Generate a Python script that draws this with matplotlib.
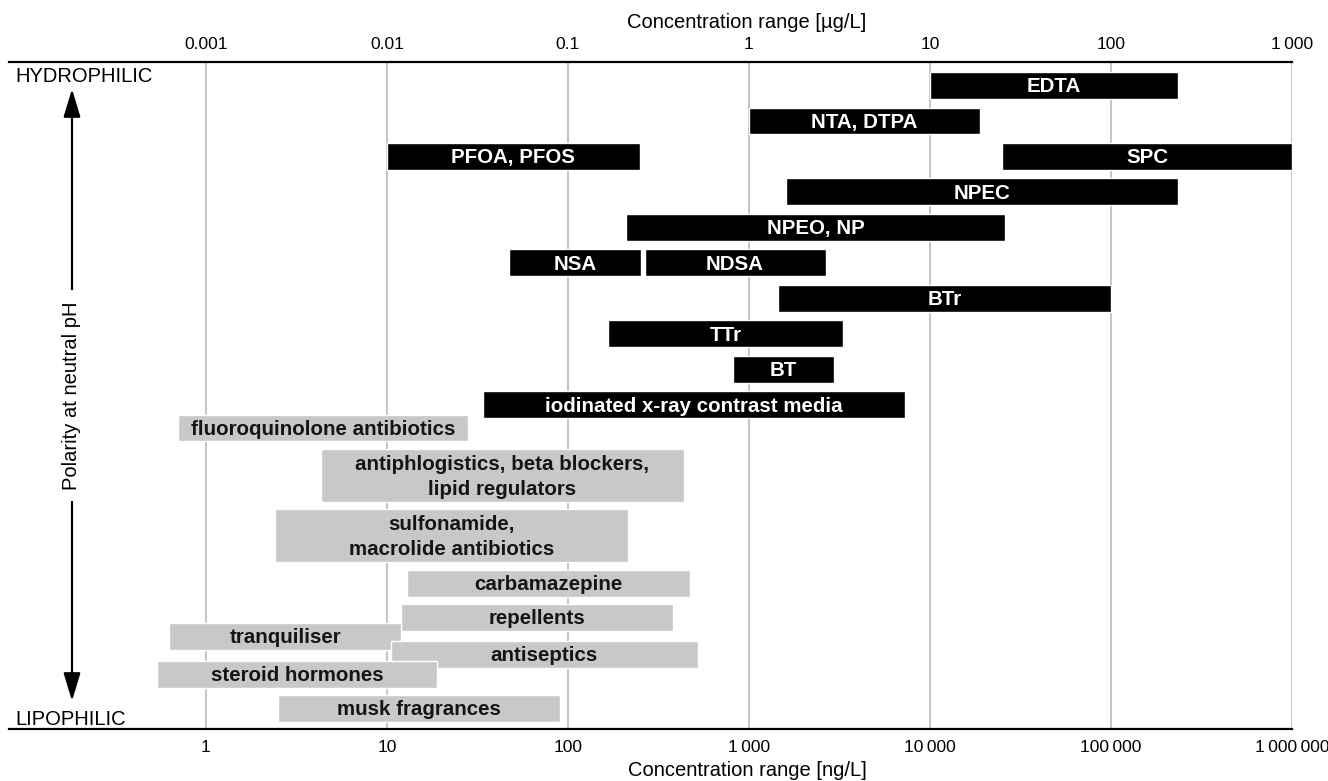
import matplotlib
matplotlib.use("Agg")
import matplotlib.pyplot as plt
import numpy as np

plt.rcParams["font.family"] = ["Liberation Sans", "DejaVu Sans"]

# hydrophilic (top) compounds, concentration range in ng/L
BLACK_NAMES = ["EDTA", "NTA, DTPA", "PFOA, PFOS", "SPC", "NPEC", "NPEO, NP",
               "NSA", "NDSA", "BTr", "TTr", "BT", "iodinated x-ray contrast media"]
BLACK_LO = [10000, 1000, 10, 25000, 1600, 210, 47, 265, 1450, 167, 820, 34]
BLACK_HI = [235000, 19000, 250, 1000000, 235000, 26000, 255, 2650, 100000, 3300, 2950, 7300]
BLACK_ROW = [0, 1, 2, 2, 3, 4, 5, 5, 6, 7, 8, 9]

# lipophilic (lower) compounds
GRAY_NAMES = ["fluoroquinolone antibiotics",
              "antiphlogistics, beta blockers,\nlipid regulators",
              "sulfonamide,\nmacrolide antibiotics",
              "carbamazepine", "repellents", "tranquiliser", "antiseptics",
              "steroid hormones", "musk fragrances"]
GRAY_LO = [0.70, 4.3, 2.4, 13, 12, 0.63, 10.5, 0.54, 2.5]
GRAY_HI = [28, 440, 215, 470, 380, 12, 520, 19, 90]
GRAY_ROW = [9.65, 10.99, 12.68, 14.03, 15.0, 15.52, 16.04, 16.59, 17.56]
GRAY_SPAN = [1, 2, 2, 1, 1, 1, 1, 1, 1]

NG_TICKS = [1, 10, 100, 1000, 10000, 100000, 1000000]
NG_LABELS = ["1", "10", "100", "1\u2009000", "10\u2009000", "100\u2009000", "1\u2009000\u2009000"]
UG_LABELS = ["0.001", "0.01", "0.1", "1", "10", "100", "1\u2009000"]

BAR_H = 0.76


def bar(ax, lo, hi, row, h, face, tcolor, name):
    ax.barh(row, hi - lo, left=lo, height=h, color=face,
            edgecolor="white", linewidth=1.0, zorder=3)
    ax.text(np.sqrt(lo * hi), row + 0.03, name, ha="center", va="center",
            fontsize=14.8, fontweight="bold", color=tcolor, zorder=4,
            linespacing=1.4)


fig = plt.figure(figsize=(13.28, 7.81), dpi=100)
ax = fig.add_axes([9 / 1328, 52 / 781, 1283 / 1328, 667 / 781])
ax.set_xscale("log")
ax.set_xlim(0.0818, 1e6)
ax.set_ylim(18.13, -0.662)

for lo, hi, r, n in zip(BLACK_LO, BLACK_HI, BLACK_ROW, BLACK_NAMES):
    bar(ax, lo, hi, r, BAR_H, "black", "white", n)
for lo, hi, r, s, n in zip(GRAY_LO, GRAY_HI, GRAY_ROW, GRAY_SPAN, GRAY_NAMES):
    bar(ax, lo, hi, r, BAR_H if s == 1 else 1.49, "#c8c8c8", "#151515", n)

ax.set_xticks(NG_TICKS)
ax.set_xticklabels(NG_LABELS)
ax.xaxis.set_minor_locator(matplotlib.ticker.NullLocator())
ax.set_yticks([])
ax.grid(axis="x", color="#b4b4b4", linewidth=1.1, zorder=0)
ax.set_axisbelow(True)
ax.tick_params(axis="x", length=0, pad=8, labelsize=12.5)
for s in ["left", "right"]:
    ax.spines[s].set_visible(False)
for s in ["top", "bottom"]:
    ax.spines[s].set_linewidth(1.6)

ax2 = ax.twiny()
ax2.set_xscale("log")
ax2.set_xlim(ax.get_xlim())
ax2.set_xticks(NG_TICKS)
ax2.set_xticklabels(UG_LABELS)
ax2.xaxis.set_minor_locator(matplotlib.ticker.NullLocator())
ax2.tick_params(axis="x", length=0, pad=7, labelsize=12.5)
for s in ["left", "right", "bottom", "top"]:
    ax2.spines[s].set_visible(False)

fig.text(747 / 1328, 1 - 23 / 781, "Concentration range [µg/L]",
         ha="center", va="center", fontsize=14.5)
fig.text(747 / 1328, 1 - 771 / 781, "Concentration range [ng/L]",
         ha="center", va="center", fontsize=14.5)

fig.text(15 / 1328, 1 - 82 / 781, "HYDROPHILIC", ha="left", va="baseline",
         fontsize=14.5)
fig.text(15 / 1328, 1 - 725 / 781, "LIPOPHILIC", ha="left", va="baseline",
         fontsize=14.5)

# polarity arrow with the label sitting in a gap
ax.annotate("", xy=(0.0491, 0.9595), xytext=(0.0491, 0.042),
            xycoords="axes fraction",
            arrowprops=dict(arrowstyle="<|-|>,head_length=0.86,head_width=0.26",
                            mutation_scale=20, lw=1.6, color="black",
                            shrinkA=0, shrinkB=0))
ax.text(0.0491, 0.5, "Polarity at neutral pH", transform=ax.transAxes,
        rotation=90, ha="center", va="center", fontsize=14.5,
        bbox=dict(facecolor="white", edgecolor="none", pad=8), zorder=5)

fig.savefig("out.png", dpi=100)
